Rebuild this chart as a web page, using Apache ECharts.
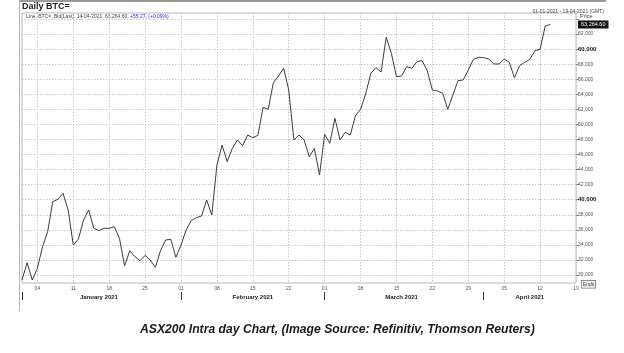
<!DOCTYPE html>
<html>
<head>
<meta charset="utf-8">
<script src="https://cdn.jsdelivr.net/npm/echarts@6/dist/echarts.min.js"></script>
<style>
  html, body {margin: 0; background: #fff;}
  #chart {width: 624px; height: 353px;}
</style>
</head>
<body>
<div id="chart"></div>
<script>
// daily BTC= bid, 01-01-2021 .. 14-04-2021
const startDay = '2021-01-01'
const dayCount = 109   // axis runs to 19-04-2021
const prices = [
  29340, 31630, 29340, 30890, 33760, 35750, 39740, 40050, 40850, 38630,
  33980, 34780, 37300, 38630, 36200, 35890, 36200, 36200, 36420, 34870,
  31200, 33230, 32430, 31900, 32610, 31990, 31020, 33230, 34650, 34740,
  32350, 33980, 35980, 37220, 37620, 37840, 39960, 37970, 44610, 47260,
  45050, 46820, 47930, 47170, 48590, 48230, 48550, 52270, 52000, 55540,
  56430, 57450, 54570, 47930, 48590, 47930, 45700, 46820, 43280, 48680,
  47490, 50810, 47930, 48950, 48590, 51120, 52000, 54040, 56790, 57530,
  56960, 61570, 59440, 56340, 56430, 57670, 57450, 58330, 58460, 57130,
  54570, 54440, 54130, 52000, 53900, 55800, 55900, 57220, 58640, 58910,
  58860, 58680, 58020, 58020, 58680, 58240, 56200, 57790, 58240, 58640,
  59790, 59970, 63070, 63264.60
]
const gridTicks = [30000, 32000, 34000, 36000, 38000, 40000, 42000, 44000, 46000,
  48000, 50000, 52000, 54000, 56000, 58000, 60000, 62000, 64000]
const labelTicks = [30000, 32000, 34000, 36000, 38000, 40000, 42000, 44000, 46000,
  48000, 50000, 52000, 54000, 56000, 58000, 60000, 62000]
const monthNames = ['January 2021', 'February 2021', 'March 2021', 'April 2021']
const lastPrice = 63264.60

// category days
const days = []
const t0 = new Date(startDay + 'T00:00:00Z').getTime()
for (let i = 0; i < dayCount; i++) days.push(new Date(t0 + i * 86400000))
const dayLabels = days.map(d => String(d.getUTCDate()).padStart(2, '0'))

const isMonday = (i) => days[i].getUTCDay() === 1
const monthStart = (i) => days[i].getUTCDate() === 1

// middle of the visible part of each month, for the month labels
const monthMid = {}
monthNames.forEach((name, m) => {
  const idx = days.map((d, i) => d.getUTCMonth() === m ? i : -1).filter(i => i >= 0)
  monthMid[Math.round((idx[0] + idx[idx.length - 1]) / 2)] = name
})

const fmt = (v) => v.toLocaleString('en-US')

const chart = echarts.init(document.getElementById('chart'))
const option = {
  animation: false,
  backgroundColor: '#fff',
  textStyle: {fontFamily: 'Liberation Sans, Arial, sans-serif'},
  title: [
    {
      text: 'Daily BTC=',
      left: 22, top: 2, padding: 0,
      textStyle: {fontSize: 9, fontWeight: 'bold', color: '#222'}
    },
    {
      text: 'ASX200 Intra day Chart, (Image Source: Refinitiv, Thomson Reuters)',
      left: 140, top: 324, padding: 0,
      textStyle: {
        fontSize: 12.2, fontWeight: 'bold', fontStyle: 'italic', color: '#1a1a1a'
      }
    }
  ],
  graphic: [
    {type: 'rect', shape: {x: 19, y: 0, width: 587, height: 2}, style: {fill: '#9a9a9a'}, silent: true},
    {type: 'rect', shape: {x: 19, y: 0, width: 1, height: 311}, style: {fill: '#b0b0b0'}, silent: true},
    {
      type: 'text', left: 26, top: 14,
      style: {
        text: '{a|Line, BTC=, Bid(Last), 14-04-2021, 63,264.60, }{b|+55.27, (+0.09%)}',
        rich: {
          a: {fontSize: 5, fill: '#444'},
          b: {fontSize: 5, fill: '#2a2aff'}
        }
      }
    },
    {
      type: 'text', right: 20, top: 9,
      style: {text: '01-01-2021 - 19-04-2021 (GMT)', fontSize: 5, fill: '#444'}
    },
    {
      type: 'text', left: 580, top: 13,
      style: {text: 'Price', fontSize: 5.5, fill: '#444'}
    },
    {
      type: 'text', left: 581, top: 280,
      style: {text: 'Ends', fontSize: 5, fill: '#444', borderColor: '#777', borderWidth: 0.8, padding: [1, 1], backgroundColor: '#eee'}
    }
  ],
  grid: {
    left: 22, right: 48, top: 13, bottom: 70,
    show: true, borderColor: '#b8b8b8', borderWidth: 1
  },
  xAxis: [
    {
      type: 'category',
      data: dayLabels,
      boundaryGap: false,
      axisLine: {show: false},
      axisTick: {show: false},
      axisLabel: {
        interval: (i) => isMonday(i),
        fontSize: 5, color: '#555', margin: 3
      },
      splitLine: {
        show: true,
        interval: (i) => isMonday(i),
        lineStyle: {color: '#c8c8c8', type: [1.5, 1.5], width: 1}
      }
    },
    {
      type: 'category',
      data: dayLabels,
      boundaryGap: false,
      position: 'bottom',
      offset: 9,
      axisLine: {show: false},
      axisTick: {
        show: true,
        interval: (i) => monthStart(i),
        length: 8,
        lineStyle: {color: '#333', width: 1}
      },
      axisLabel: {
        interval: (i) => monthMid[i] !== undefined,
        formatter: (v, i) => monthMid[i] || '',
        fontSize: 6, fontWeight: 'bold', color: '#222', margin: 2
      },
      splitLine: {show: false}
    }
  ],
  yAxis: {
    type: 'value',
    position: 'right',
    min: 28940,
    max: 64790,
    axisLine: {show: false},
    axisTick: {
      show: true, length: 3, customValues: gridTicks,
      lineStyle: {color: '#888'}
    },
    axisLabel: {
      customValues: labelTicks,
      margin: 2,
      formatter: (v) => (v % 20000 === 0 ? '{b|' + fmt(v) + '}' : '{n|' + fmt(v) + '}'),
      rich: {
        n: {fontSize: 5, color: '#555'},
        b: {fontSize: 6, color: '#111', fontWeight: 'bold'}
      }
    },
    splitLine: {
      show: true,
      lineStyle: {color: '#c8c8c8', type: [1.5, 1.5], width: 1}
    }
  },
  series: [
    {
      type: 'line',
      data: prices,
      symbol: 'none',
      lineStyle: {color: '#3c3c3c', width: 1},
      markLine: {
        silent: true,
        symbol: 'none',
        lineStyle: {color: 'rgba(0,0,0,0)', width: 0},
        label: {
          show: true,
          position: 'end',
          formatter: () => lastPrice.toLocaleString('en-US', {minimumFractionDigits: 2}),
          backgroundColor: '#111', color: '#fff', fontSize: 5.5,
          padding: [1, 3], distance: 2
        },
        data: [{yAxis: lastPrice}]
      }
    }
  ]
}
chart.setOption(option)
</script>
</body>
</html>
